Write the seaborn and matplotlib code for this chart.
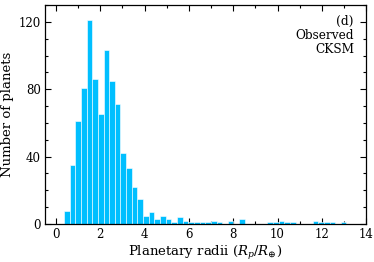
import numpy as np
import pandas as pd
import matplotlib
matplotlib.use("Agg")
import matplotlib.pyplot as plt
from matplotlib.ticker import MultipleLocator
import seaborn as sns

# ---- data ----
bin_start = 0.362
bin_width = 0.255
counts = [8, 35, 61, 81, 121, 86, 65, 103, 85, 71,
          42, 33, 22, 15, 5, 7, 3, 5, 3, 1,
          4, 2, 1, 1, 1, 1, 2, 1, 0, 2,
          0, 3, 0, 0, 0, 0, 1, 1, 2, 1,
          1, 0, 0, 0, 2, 1, 1, 1, 0, 1]
x_ticks = [0, 2, 4, 6, 8, 10, 12, 14]
y_ticks = [0, 40, 80, 120]
annotation = "(d)\nObserved\nCKSM"

nbins = len(counts)
edges = bin_start + bin_width * np.arange(nbins + 1)
centers = (edges[:-1] + edges[1:]) / 2
df = pd.DataFrame({"radius": centers, "n": counts})

sns.set_style("ticks")
plt.rcParams["font.family"] = ["DejaVu Serif"]
plt.rcParams["mathtext.fontset"] = "dejavuserif"
plt.rcParams["text.color"] = "black"
plt.rcParams["axes.labelcolor"] = "black"
plt.rcParams["xtick.color"] = "black"
plt.rcParams["ytick.color"] = "black"

fig = plt.figure(figsize=(3.74, 2.62), dpi=100)
ax = fig.add_axes([0.120, 0.145, 0.859, 0.836])

sns.histplot(data=df, x="radius", weights="n", bins=nbins,
             binrange=(float(edges[0]), float(edges[-1])), ax=ax,
             color="#00BFFF", alpha=1.0, edgecolor="white", linewidth=0.4)

ax.set_xlim(-0.5, 14)
ax.set_ylim(0, 130)
ax.set_xticks(x_ticks)
ax.set_yticks(y_ticks)
ax.xaxis.set_minor_locator(MultipleLocator(1))
ax.yaxis.set_minor_locator(MultipleLocator(10))
ax.tick_params(which="both", direction="in", top=True, right=True,
               labelsize=8.5, width=0.8, color="black", labelcolor="black")
ax.tick_params(which="major", length=4, pad=3)
ax.tick_params(which="minor", length=2)
for s in ax.spines.values():
    s.set_linewidth(0.9)
    s.set_color("black")

ax.set_xlabel(r"Planetary radii ($R_p/R_{\oplus}$)", fontsize=9.5, labelpad=2)
ax.set_ylabel("Number of planets", fontsize=9.5, labelpad=3)

ax.text(0.962, 0.955, annotation, transform=ax.transAxes, ha="right", va="top",
        fontsize=8.7, linespacing=1.1)

fig.savefig("out.png", dpi=100)
